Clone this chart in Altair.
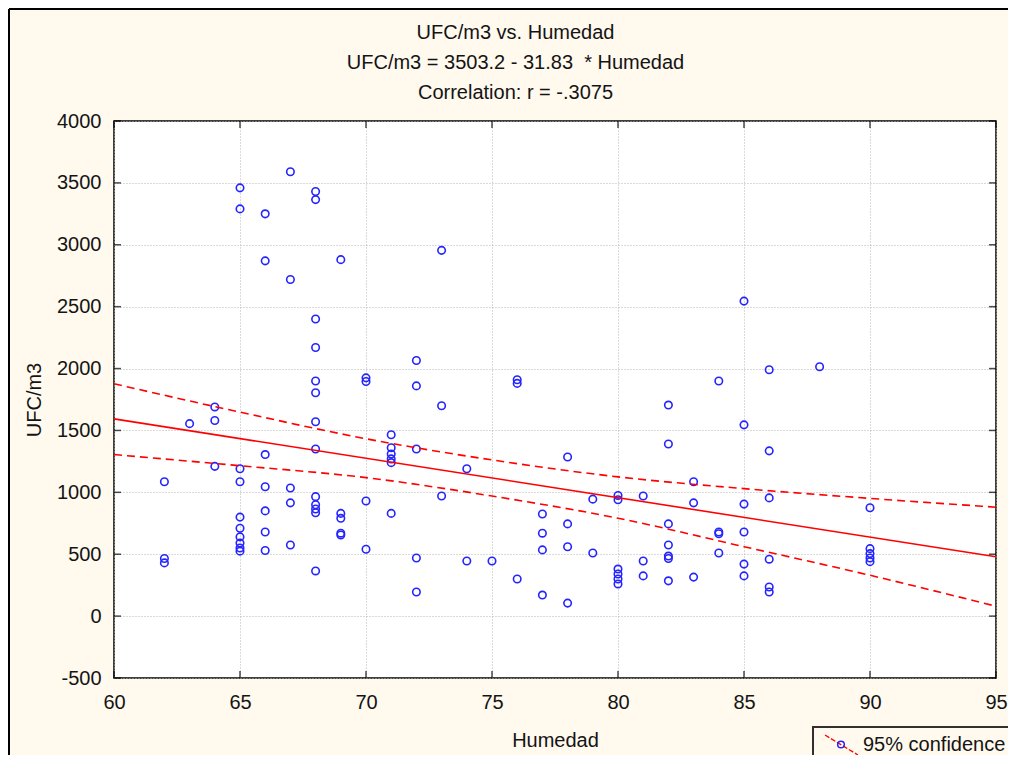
import altair as alt
import pandas as pd

# ---- data ----
humedad = (
    [62] * 3 + [63] + [64] * 3 + [65] * 10 + [66] * 7 + [67] * 5 + [68] * 13 + [69] * 5
    + [70] * 4 + [71] * 6 + [72] * 5 + [73] * 3 + [74] * 2 + [75] + [76] * 3 + [77] * 4
    + [78] * 4 + [79] * 2 + [80] * 6 + [81] * 3 + [82] * 7 + [83] * 3 + [84] * 4
    + [85] * 6 + [86] * 6 + [88] + [90] * 5
)
ufc = [
    1085, 465, 430,
    1555,
    1690, 1580, 1210,
    3460, 3290, 1190, 1085, 800, 710, 640, 590, 550, 525,
    3250, 2870, 1305, 1045, 850, 680, 530,
    3590, 2720, 1035, 915, 575,
    3430, 3365, 2400, 2170, 1900, 1805, 1570, 1350, 965, 900, 865, 835, 365,
    2880, 830, 790, 670, 655,
    1925, 1895, 930, 540,
    1465, 1360, 1310, 1270, 1240, 830,
    2065, 1860, 1350, 470, 195,
    2955, 1700, 970,
    1190, 445,
    445,
    1910, 1880, 300,
    825, 670, 535, 170,
    1285, 745, 560, 105,
    945, 510,
    975, 940, 380, 340, 300, 260,
    970, 445, 325,
    1705, 1390, 745, 575, 485, 465, 285,
    1085, 915, 315,
    1900, 680, 665, 510,
    2545, 1545, 905, 680, 420, 325,
    1990, 1335, 955, 460, 235, 195,
    2015,
    875, 545, 505, 470, 440,
]

intercept = 3503.2
slope = -31.83
line_x = [60, 95]

band_x = [60, 65, 70, 75, 80, 85, 90, 95]
band_upper = [1877, 1648, 1433, 1262, 1125, 1030, 951, 880]
band_lower = [1305, 1215, 1119, 970, 791, 561, 330, 80]

x_ticks = [60, 65, 70, 75, 80, 85, 90, 95]
y_ticks = [-500, 0, 500, 1000, 1500, 2000, 2500, 3000, 3500, 4000]

title_lines = ["UFC/m3 vs. Humedad", "UFC/m3 = 3503.2 - 31.83\u00a0 * Humedad", "Correlation: r = -.3075"]
legend_label = ["95% confidence"]

# ---- tables ----
pts = pd.DataFrame({"Humedad": humedad, "UFC": ufc})
reg = pd.DataFrame({"Humedad": line_x, "UFC": [intercept + slope * v for v in line_x]})
band = pd.concat([
    pd.DataFrame({"Humedad": band_x, "UFC": band_upper, "bound": "upper"}),
    pd.DataFrame({"Humedad": band_x, "UFC": band_lower, "bound": "lower"}),
])
xt = pd.DataFrame({"Humedad": x_ticks})
yt = pd.DataFrame({"UFC": y_ticks})
leg = pd.DataFrame({"label": legend_label})

FONT = "Liberation Sans"
TXT = "#141414"
W, H = 882, 557
CREAM = "#FFF9EE"

xscale = alt.Scale(domain=[60, 95], nice=False, zero=False)
yscale = alt.Scale(domain=[-500, 4000], nice=False, zero=False)

common_axis = dict(grid=True, gridDash=[1, 2], gridColor="#b4b4b4", ticks=False, tickSize=0,
                   domain=False, labelFontSize=20, labelColor=TXT, labelFlush=False,
                   labelOverlap=False, titleFontSize=20, titleFontWeight="normal",
                   titleColor=TXT, labelFont=FONT, titleFont=FONT,
                   labelExpr="'' + datum.value")
xaxis = alt.Axis(values=x_ticks, labelPadding=14, titlePadding=18, **common_axis)
yaxis = alt.Axis(values=y_ticks, labelPadding=13, titlePadding=12, **common_axis)

one = pd.DataFrame({"k": [0]})

border_l = alt.Chart(one).mark_rule(color="#000000", strokeWidth=2).encode(
    x=alt.value(-105), y=alt.value(-112), y2=alt.value(700))
border_t = alt.Chart(one).mark_rule(color="#000000", strokeWidth=2).encode(
    x=alt.value(-105), x2=alt.value(950), y=alt.value(-112))

title_layers = []
for i, line in enumerate(title_lines):
    title_layers.append(
        alt.Chart(pd.DataFrame({"line": [line]})).mark_text(
            align="center", baseline="middle", fontSize=20, font=FONT, color=TXT
        ).encode(x=alt.value(401.5), y=alt.value(-88 + 30 * i), text="line:N")
    )

points = alt.Chart(pts).mark_point(shape="circle", filled=False, color="#2424ff", size=56,
                                   strokeWidth=1.6, opacity=1).encode(
    x=alt.X("Humedad:Q", scale=xscale, axis=xaxis, title="Humedad"),
    y=alt.Y("UFC:Q", scale=yscale, axis=yaxis, title="UFC/m3"),
)

reg_line = alt.Chart(reg).mark_line(color="#ff0000", strokeWidth=1.6).encode(
    x="Humedad:Q", y="UFC:Q")

bands = alt.Chart(band).mark_line(color="#ff0000", strokeWidth=1.6, strokeDash=[8, 5],
                                  interpolate="monotone").encode(
    x="Humedad:Q", y="UFC:Q", detail="bound:N")

tick_b = alt.Chart(xt).mark_tick(orient="vertical", color="#000", thickness=1.5, size=7).encode(
    x="Humedad:Q", y=alt.value(H - 3.5))
tick_t = alt.Chart(xt).mark_tick(orient="vertical", color="#000", thickness=1.5, size=7).encode(
    x="Humedad:Q", y=alt.value(3.5))
tick_l = alt.Chart(yt).mark_tick(orient="horizontal", color="#000", thickness=1.5, size=7).encode(
    y="UFC:Q", x=alt.value(3.5))
tick_r = alt.Chart(yt).mark_tick(orient="horizontal", color="#000", thickness=1.5, size=7).encode(
    y="UFC:Q", x=alt.value(W - 3.5))

leg_box = alt.Chart(leg).mark_rect(fill=CREAM, stroke="#303030", strokeWidth=2).encode(
    x=alt.value(699), x2=alt.value(990), y=alt.value(606), y2=alt.value(700))
leg_line = alt.Chart(leg).mark_rule(color="#ff0000", strokeWidth=1.3, strokeDash=[5, 2]).encode(
    x=alt.value(711), x2=alt.value(744), y=alt.value(614), y2=alt.value(634))
leg_pt = alt.Chart(leg).mark_point(shape="circle", filled=False, color="#2424ff", size=44,
                                   strokeWidth=1.5, opacity=1).encode(
    x=alt.value(727), y=alt.value(623.5))
leg_txt = alt.Chart(leg).mark_text(align="left", baseline="middle", fontSize=20, font=FONT,
                                   color=TXT).encode(
    x=alt.value(749), y=alt.value(623.5), text="label:N")

chart = alt.layer(
    points, border_l, border_t, *title_layers, bands, reg_line, tick_b, tick_t, tick_l, tick_r,
    leg_box, leg_line, leg_pt, leg_txt,
).properties(
    width=W, height=H,
    padding={"left": 106, "top": 113, "right": 12, "bottom": 77},
    autosize=alt.AutoSizeParams(type="none"),
    background=CREAM,
).configure_view(fill="white", stroke="#000000", strokeWidth=1.5)

chart.save("out.html", embed_options={"renderer": "svg", "actions": False})
